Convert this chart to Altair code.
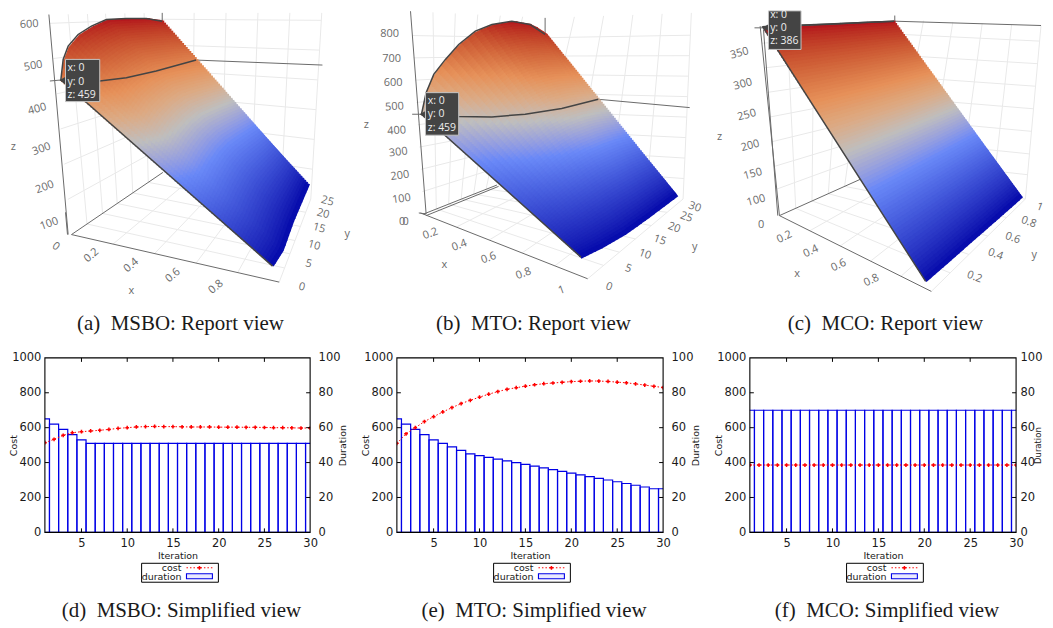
import altair as alt
import numpy as np
import pandas as pd

# ---------- simplified-view series ----------
iterations = list(range(1, 31))
cost_d = [514,533,556,571,577,581,585,590,596,600,604,606,607,606,606,605,604,604,604,603,603,603,602,602,601,600,600,599,598,598]
cost_e = [510,565,600,635,663,690,715,738,757,775,792,807,820,829,838,846,852,856,860,864,866,868,867,865,861,857,851,844,837,830]
cost_f = [386]*30
dur_d = [65,62,59,56,53]+[51]*25
dur_e = [65,62,59,56,53,51,49,47,45,44,43,42,41,40,39,38,37,36,35,34,33,32,31,30,29,28,27,26,25,25]
dur_f = [70]*30
captions_top = ["(a)\u2002MSBO: Report view", "(b)\u2002MTO: Report view", "(c)\u2002MCO: Report view"]
captions_bot = ["(d)\u2002MSBO: Simplified view", "(e)\u2002MTO: Simplified view", "(f)\u2002MCO: Simplified view"]

# ---------- report-view readings (3x crop units of each column) ----------
a_top = [(183,232),(190,170),(205,130),(235,95),(275,70),(320,50),(380,47),(440,47),(488,55)]
a_z = [459,515,550,575,590,603,606,603,597]
a_bottom = [(820,792),(850,745),(880,660),(905,600),(928,545)]
a_spike = [(183,232),(300,235),(380,225),(470,205),(590,172)]
a_grey = [((150,235),(183,232)),((590,172),(970,187)),((147,35),(205,697)),((197,630),(203,697)),((215,697),(840,840)),((215,697),(490,510)),((488,30),(488,55))]
a_cube = {"000":(215,697),"100":(840,840),"010":(490,510),"110":(935,590),"001":(147,35),"011":(488,30),"111":(968,30)}
a_ticks = ([.2,.4,.6,.8,1],[.17,.34,.5,.67,.84],[.16,.32,.48,.64,.8,.96])
a_labels = [("100",148,665,-20),("200",135,555,-20),("300",125,440,-20),("400",112,320,-15),("500",100,190,-10),("600",88,65,-3),("z",40,435,0),
            ("0",168,733,35),("0.2",275,760,-40),("0.4",395,790,-40),("0.6",520,820,-40),("0.8",650,855,-40),("x",395,867,0),
            ("0",908,855,15),("5",928,785,15),("10",945,730,15),("15",960,678,15),("20",972,635,15),("25",985,597,15),("y",1045,695,0)]
a_tip = ((197,170),(300,297),(188,233),203,["x: 0","y: 0","z: 459"],[195,237,278])

b_top = [(218,335),(232,270),(255,215),(290,170),(330,125),(380,85),(430,65),(490,55),(545,65),(590,95)]
b_z = [459,530,600,665,730,790,840,868,860,830]
b_bottom = [(698,765),(760,735),(830,695),(900,645),(988,578)]
b_spike = [(218,335),(330,342),(430,343),(530,335),(640,318),(750,290)]
b_grey = [((190,335),(218,335)),((750,290),(1025,315)),((185,25),(232,635)),((210,632),(232,635)),((215,632),(718,830)),((225,635),(445,548)),((232,640),(450,552)),((590,45),(590,95))]
b_cube = {"000":(225,635),"100":(718,830),"010":(450,545),"110":(1005,590),"001":(185,25),"011":(590,45),"111":(1030,30)}
b_ticks = ([.2,.4,.6,.8,1],[.167,.333,.5,.667,.833],[.11,.22,.33,.44,.55,.66,.77,.88])
b_labels = [("800",122,93,0),("700",128,168,0),("600",133,240,0),("500",137,313,-3),("400",143,385,-4),("300",148,450,-6),("200",153,520,-8),("100",158,590,-8),("0",160,660,0),("0",170,660,0),("z",52,367,0),
            ("0.2",245,695,-20),("0.4",332,730,-20),("0.6",420,768,-20),("0.8",525,815,-20),("1",640,865,-20),("x",287,790,0),
            ("0",782,855,20),("5",840,800,20),("10",890,757,20),("15",935,714,20),("20",978,677,20),("25",1015,645,20),("30",1040,615,20),("y",1040,735,0)]
b_tip = ((230,270),(330,398),(222,335),237,["x: 0","y: 0","z: 459"],[295,335,375])

c_top = [(195,72),(295,68),(395,64),(495,59),(590,55)]
c_z = [386,386,386,386,386]
c_bottom = [(685,838),(758,774),(830,710),(903,646),(975,582)]
c_spike = [(195,72),(590,55)]
c_grey = [((170,75),(210,75)),((590,55),(1032,68)),((187,70),(245,640)),((197,80),(240,640)),((245,640),(702,868)),((245,640),(490,530)),((592,38),(592,68))]
c_cube = {"000":(245,640),"100":(702,868),"010":(490,530),"110":(985,590),"001":(187,70),"011":(590,50),"111":(1032,68)}
c_ticks = ([.2,.4,.6,.8,1],[.2,.4,.6,.8,1],[.14,.26,.39,.52,.65,.78,.91])
c_labels = [("0",190,668,0),("100",175,595,-15),("150",165,515,-15),("200",157,430,-15),("250",147,338,-15),("300",135,245,-15),("350",125,152,-15),("z",65,402,0),
            ("0.2",260,705,-25),("0.4",340,748,-25),("0.6",423,790,-25),("0.8",522,835,-25),("x",298,817,0),
            ("0.2",832,825,20),("0.4",895,757,20),("0.6",947,708,20),("0.8",995,660,20),("1",1028,615,20),("y",1012,760,0)]
c_tip = ((212,24),(310,140),(203,75),217,["x: 0","y: 0","z: 386"],[35,75,115])

scale_stops = [0,.35,.5,.6,.7,1]
scale_colors = ["rgb(5,10,172)","rgb(106,137,247)","rgb(190,190,190)","rgb(220,170,132)","rgb(230,145,90)","rgb(178,10,28)"]

TOP_Y = (8, 356)
FONT3D = "Open Sans"
SERIF = "Liberation Serif"
SANS = "DejaVu Sans"
INK = "#1a1a1a"
CAPTION_SIZE = 21


def report_panel(off, xr, top, zs, bottom, spike, grey, cube, ticks, labels, tip, caption, cap_x):
    def P(p):
        return (p[0]/3+off, p[1]/3)
    sx = alt.Scale(domain=list(xr), nice=False, zero=False)
    sy = alt.Scale(domain=[TOP_Y[1], TOP_Y[0]], nice=False, zero=False)
    X = alt.X("x:Q", scale=sx, axis=None)
    Y = alt.Y("y:Q", scale=sy, axis=None)

    def rules(segs):
        return pd.DataFrame([{"x":P(a)[0],"y":P(a)[1],"x2":P(b)[0],"y2":P(b)[1]} for a,b in segs])

    # gridlines on the three back planes, from the tick fractions
    C = cube
    def bil(c00,c10,c01,c11,s,t):
        c00,c10,c01,c11 = map(np.array,(c00,c10,c01,c11))
        return tuple((1-s)*(1-t)*c00+s*(1-t)*c10+(1-s)*t*c01+s*t*c11)
    gs = []
    xt,yt,zt = ticks
    walls = [((C["000"],C["100"],C["010"],C["110"]),xt,yt),
             ((C["000"],C["010"],C["001"],C["011"]),yt,zt),
             ((C["010"],C["110"],C["011"],C["111"]),xt,zt)]
    for w,ss,ts in walls:
        for s in ss:
            gs.append((bil(*w,s,0),bil(*w,s,1)))
        for t in ts:
            gs.append((bil(*w,0,t),bil(*w,1,t)))
    grid = alt.Chart(rules(gs)).mark_rule(color="#e9e9e9",strokeWidth=1).encode(x=X,y=Y,x2="x2:Q",y2="y2:Q")
    frame = alt.Chart(rules(grey)).mark_rule(color="#6a6a6a",strokeWidth=1).encode(x=X,y=Y,x2="x2:Q",y2="y2:Q")

    # surface mesh: rows between the far edge and the near edge
    top_arr = np.array([P(p) for p in top]); bot_arr = np.array([P(p) for p in bottom])
    f_top = np.linspace(0,1,len(top)); f_bot = np.linspace(0,1,len(bottom))
    us = np.linspace(0,1,25); vs = np.linspace(0.012,0.995,80)
    tx,ty = np.interp(us,f_top,top_arr[:,0]),np.interp(us,f_top,top_arr[:,1])
    bx,by = np.interp(us,f_bot,bot_arr[:,0]),np.interp(us,f_bot,bot_arr[:,1])
    tz = np.interp(us,f_top,zs)
    zmax=max(zs)
    rows=[]
    for v in vs:
        xx=tx*(1-v)+bx*v; yy=ty*(1-v)+by*v; zz=tz*(1-v)
        n=len(us)-1
        for i in range(n):
            ext=1.25 if i<n-1 else 1.0
            rows.append({"x":xx[i],"y":yy[i],"x2":xx[i]+(xx[i+1]-xx[i])*ext,"y2":yy[i]+(yy[i+1]-yy[i])*ext,"z":(zz[i]+zz[i+1])/2/zmax})
    surf = alt.Chart(pd.DataFrame(rows)).mark_rule(strokeWidth=5,strokeCap="butt").encode(
        x=X,y=Y,x2="x2:Q",y2="y2:Q",
        color=alt.Color("z:Q",scale=alt.Scale(domain=scale_stops,range=scale_colors),legend=None))

    # dark outlines and spike contour
    paths=[]
    outline=list(top[::-1])+[bottom[0]]
    for k,p in enumerate(outline):
        paths.append({"x":P(p)[0],"y":P(p)[1],"k":k,"pid":"o"})
    for k,p in enumerate(spike):
        paths.append({"x":P(p)[0],"y":P(p)[1],"k":k,"pid":"s"})
    dark = alt.Chart(pd.DataFrame(paths)).mark_line(color="#444444",strokeWidth=1.5).encode(
        x=X,y=Y,order="k:Q",detail="pid:N")

    # axis labels
    lab = pd.DataFrame([{"x":P((l[1],l[2]))[0],"y":P((l[1],l[2]))[1],"t":l[0],"a":l[3]%360} for l in labels])
    text = alt.Chart(lab).mark_text(font=FONT3D,fontSize=11,color="#6a6a6a").encode(
        x=X,y=Y,text="t:N",angle=alt.Angle("a:Q",scale=None))

    # hover label
    (b0,b1,pt,tx0,lines,ys)=tip
    box = alt.Chart(pd.DataFrame([{"x":P(b0)[0],"y":P(b0)[1],"x2":P(b1)[0],"y2":P(b1)[1]}])).mark_rect(
        fill="#444444",stroke="#c4c4c4",strokeWidth=1).encode(x=X,y=Y,x2="x2:Q",y2="y2:Q")
    arrow = alt.Chart(pd.DataFrame([{"x":P(pt)[0],"y":P(pt)[1]}])).mark_point(
        shape="triangle-left",filled=True,color="#444444",opacity=1,size=50).encode(x=X,y=Y)
    tip_t = alt.Chart(pd.DataFrame([{"x":P((tx0,yy))[0],"y":P((tx0,yy))[1],"t":s} for s,yy in zip(lines,ys)])).mark_text(
        font=FONT3D,fontSize=10.5,color="#eeeeee",align="left").encode(x=X,y=Y,text="t:N")

    cap = alt.Chart(pd.DataFrame([{"x":cap_x,"y":322,"t":caption}])).mark_text(
        font=SERIF,fontSize=CAPTION_SIZE,color=INK).encode(x=X,y=Y,text="t:N")

    return alt.layer(grid,frame,surf,dark,arrow,box,tip_t,text,cap).properties(
        width=xr[1]-xr[0],height=TOP_Y[1]-TOP_Y[0])


def simple_panel(cost,dur,w,caption,dur_x=32,lab_pad=8,dur_size=9.5):
    h=175
    df=pd.DataFrame({"i":iterations,"cost":cost,"dur":dur,"x0":[i-.5 for i in iterations],"x1":[i+.5 for i in iterations],"zero":[0]*30})
    sx=alt.Scale(domain=[1,30],nice=False,zero=False)
    sc=alt.Scale(domain=[0,1000],nice=False)
    sd=alt.Scale(domain=[0,100],nice=False)
    xaxis=alt.Axis(values=[5,10,15,20,25,30],grid=False,ticks=False,domain=False,labelFontSize=11.5,labelFont=SANS,labelColor=INK,labelPadding=5,labelFlush=False,
                   title="Iteration",titleFont=SANS,titleFontSize=9.5,titleFontWeight="normal",titleColor=INK,titleY=23,titleBaseline="middle")
    laxis=alt.Axis(values=[0,200,400,600,800,1000],format="d",grid=False,ticks=False,domain=False,labelFontSize=11.5,labelFont=SANS,labelColor=INK,labelPadding=4,orient="left",
                   title="Cost",titleFont=SANS,titleFontSize=9.5,titleFontWeight="normal",titleColor=INK,titleX=-31,titleAngle=270,titleBaseline="middle")
    raxis=alt.Axis(values=[0,20,40,60,80,100],grid=False,ticks=False,domain=False,labelFontSize=11.5,labelFont=SANS,labelColor=INK,labelPadding=lab_pad,orient="right",
                   title="Duration",titleFont=SANS,titleFontSize=dur_size,titleFontWeight="normal",titleColor=INK,titleX=dur_x,titleAngle=270,titleBaseline="middle")
    bars=alt.Chart(df).mark_rect(fillOpacity=0,stroke="#0000e6",strokeWidth=1.2,clip=True).encode(
        x=alt.X("x0:Q",scale=sx,axis=xaxis),x2="x1:Q",y=alt.Y("dur:Q",scale=sd,axis=raxis),y2="zero:Q")
    line=alt.Chart(df).mark_line(color="#ff0000",strokeWidth=1,strokeDash=[1.5,2],clip=True).encode(
        x=alt.X("i:Q",scale=sx,axis=xaxis),y=alt.Y("cost:Q",scale=sc,axis=laxis))
    pts=alt.Chart(df).mark_point(shape="cross",filled=True,color="#ff0000",opacity=1,size=14,clip=True).encode(
        x=alt.X("i:Q",scale=sx,axis=xaxis),y=alt.Y("cost:Q",scale=sc,axis=None))
    tk=pd.DataFrame({"t":[200,400,600,800]})
    tl=alt.Chart(tk).mark_rule(color="black",strokeWidth=1).encode(x=alt.value(0),x2=alt.value(4),y=alt.Y("t:Q",scale=sc,axis=None))
    tr=alt.Chart(tk).mark_rule(color="black",strokeWidth=1).encode(x=alt.value(w-4),x2=alt.value(w),y=alt.Y("t:Q",scale=sc,axis=None))
    vk=pd.DataFrame({"v":[5,10,15,20,25]})
    tt=alt.Chart(vk).mark_rule(color="black",strokeWidth=1).encode(x=alt.X("v:Q",scale=sx,axis=xaxis),y=alt.value(0),y2=alt.value(4))
    tb=alt.Chart(vk).mark_rule(color="black",strokeWidth=1).encode(x=alt.X("v:Q",scale=sx,axis=xaxis),y=alt.value(h-4),y2=alt.value(h))
    one=pd.DataFrame({"a":[0]})
    frame=alt.Chart(one).mark_rect(fillOpacity=0,stroke="black",strokeWidth=1.1).encode(
        x=alt.value(0),x2=alt.value(w),y=alt.value(0),y2=alt.value(h))
    # key box below the plot
    lg=alt.Chart(one).mark_rect(fill="white",stroke="black",strokeWidth=1).encode(
        x=alt.value(97),x2=alt.value(174),y=alt.value(206),y2=alt.value(225))
    lt1=alt.Chart(one).mark_text(text="cost",font=SANS,fontSize=9.5,color=INK,align="right").encode(x=alt.value(137),y=alt.value(211))
    lt2=alt.Chart(one).mark_text(text="duration",font=SANS,fontSize=9.5,color=INK,align="right").encode(x=alt.value(137),y=alt.value(220))
    ll=alt.Chart(one).mark_rule(color="#ff0000",strokeWidth=1,strokeDash=[1.5,2]).encode(x=alt.value(142),x2=alt.value(168),y=alt.value(210.5))
    lp=alt.Chart(one).mark_point(shape="cross",filled=True,color="#ff0000",opacity=1,size=14).encode(x=alt.value(155),y=alt.value(210.5))
    lb=alt.Chart(one).mark_rect(fill="#eaeaff",stroke="#0000e6",strokeWidth=1.1).encode(
        x=alt.value(142),x2=alt.value(168),y=alt.value(216.5),y2=alt.value(221.5))
    cap=alt.Chart(one).mark_text(text=caption,font=SERIF,fontSize=CAPTION_SIZE,color=INK).encode(x=alt.value(w/2+4),y=alt.value(253.5))
    return alt.layer(bars,line,pts,tl,tr,tt,tb,frame,lg,lt1,lt2,ll,lp,lb,cap).resolve_scale(y="independent").properties(width=w,height=h)


def spacer(w):
    return alt.Chart(pd.DataFrame({"a":[0]})).mark_point(opacity=0,size=1).encode(x=alt.value(w/2),y=alt.value(80)).properties(width=w,height=175)


pa=report_panel(0,(8,350),a_top,a_z,a_bottom,a_spike,a_grey,a_cube,a_ticks,a_labels,a_tip,captions_top[0],181)
pb=report_panel(350,(350,700),b_top,b_z,b_bottom,b_spike,b_grey,b_cube,b_ticks,b_labels,b_tip,captions_top[1],535)
pc=report_panel(700,(700,1045),c_top,c_z,c_bottom,c_spike,c_grey,c_cube,c_ticks,c_labels,c_tip,captions_top[2],888)

pd_=simple_panel(cost_d,dur_d,266,captions_bot[0])
pe=simple_panel(cost_e,dur_e,267,captions_bot[1])
pf=simple_panel(cost_f,dur_f,267,captions_bot[2],dur_x=21,lab_pad=4,dur_size=8.5)

row1=alt.hconcat(pa,pb,pc,spacing=0,bounds="flush")
row2=alt.hconcat(spacer(37),pd_,spacer(87),pe,spacer(87),pf,spacing=0,bounds="flush")
chart=alt.vconcat(row1,row2,spacing=348,bounds="flush").properties(padding=0).configure_view(strokeWidth=0)
chart.save("out.html",embed_options={"renderer":"svg","actions":False})
